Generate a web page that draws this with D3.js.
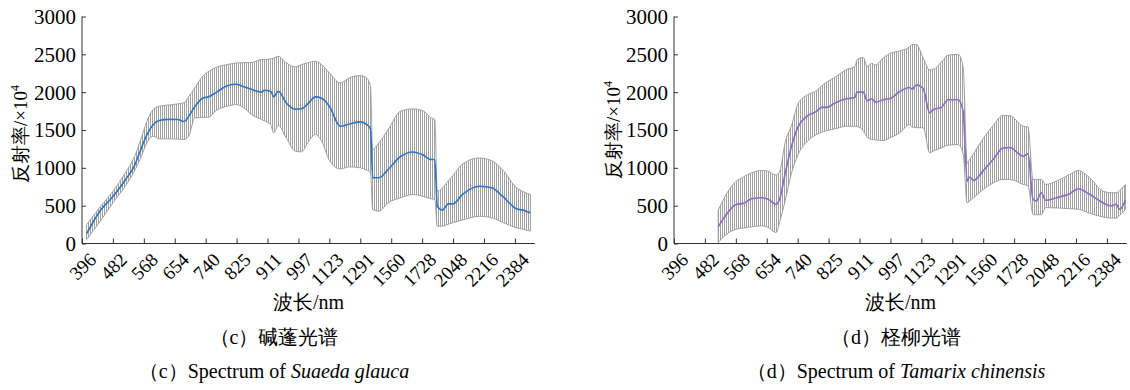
<!DOCTYPE html>
<html>
<head>
<meta charset="utf-8">
<script src="https://cdn.jsdelivr.net/npm/d3@7"></script>
</head>
<body style="margin:0">
<svg id="fig" width="1130" height="390"></svg>
<script>
// wavelength labels shown under every 10th band position
const wavelengthLabels = ["396", "482", "568", "654", "740", "825", "911", "997", "1123", "1291", "1560", "1728", "2048", "2216", "2384"];
const yTicks = [0, 500, 1000, 1500, 2000, 2500, 3000];

// (c) Suaeda glauca: band position, mean and mean +/- sd
const suaedaPos = [1.5, 6, 10, 14, 17, 19, 21, 23, 25, 28, 31, 33, 34.5, 36.5, 39, 41, 43.5, 47, 50, 52, 55, 58, 59, 61, 62, 63.5, 66, 69, 71, 73, 75.5, 77.5, 80, 83.5, 86.5, 90, 92, 93.3, 94, 96, 99, 103, 107, 110, 113, 114.1, 114.9, 116.5, 118.5, 120, 123, 128.5, 132.5, 136, 140.5, 143, 145];
const suaedaMean = [130, 440, 620, 840, 1030, 1240, 1440, 1570, 1625, 1640, 1638, 1612, 1680, 1810, 1920, 1940, 2000, 2085, 2104, 2075, 2035, 2000, 2025, 2012, 1940, 2012, 1860, 1775, 1780, 1845, 1938, 1920, 1815, 1550, 1580, 1608, 1575, 1515, 868, 868, 978, 1150, 1210, 1176, 1110, 1110, 493, 440, 524, 524, 647, 757, 736, 625, 458, 436, 405];
const suaedaUpper = [251, 490, 690, 934, 1150, 1374, 1616, 1770, 1814, 1830, 1845, 1860, 1940, 2057, 2210, 2276, 2330, 2365, 2387, 2390, 2392, 2431, 2431, 2440, 2450, 2474, 2390, 2334, 2365, 2387, 2409, 2365, 2255, 2123, 2189, 2219, 2189, 2078, 1242, 1330, 1506, 1748, 1779, 1760, 1660, 1638, 691, 730, 830, 900, 1050, 1130, 1095, 975, 740, 680, 647];
const suaedaLower = [53, 300, 537, 757, 960, 1132, 1330, 1418, 1383, 1383, 1380, 1374, 1418, 1660, 1665, 1670, 1760, 1814, 1836, 1800, 1700, 1640, 1620, 1572, 1462, 1560, 1400, 1219, 1211, 1330, 1440, 1352, 1100, 985, 1013, 1000, 970, 934, 449, 427, 537, 603, 647, 625, 590, 581, 229, 229, 255, 275, 310, 360, 340, 280, 207, 185, 163];

// (d) Tamarix chinensis
const tamarixPos = [14.3, 17, 20.2, 22.4, 25.1, 28.3, 30.5, 33, 34.3, 35.9, 38, 40.2, 42.9, 46.1, 47.7, 49.3, 52.5, 55.8, 58.5, 59.2, 61.2, 62.5, 63.9, 65.2, 67.6, 69.8, 73, 76.2, 77, 78.4, 80.6, 82.7, 83.8, 86.5, 88.6, 91.9, 93.5, 94.8, 95.6, 96.9, 99.9, 103.2, 106.4, 108.6, 112.9, 114.5, 116.1, 117.2, 118.8, 120.2, 123.7, 128, 130.7, 134.4, 138.7, 141.4, 143, 144.1, 146];
const tamarixMean = [220, 387, 518, 530, 592, 605, 584, 518, 605, 913, 1285, 1549, 1680, 1746, 1799, 1799, 1868, 1913, 1930, 2000, 2000, 1887, 1913, 1868, 1900, 1913, 2009, 2062, 2040, 2097, 2044, 1724, 1768, 1799, 1900, 1900, 1746, 825, 878, 834, 957, 1110, 1263, 1268, 1154, 1184, 584, 562, 671, 571, 605, 658, 724, 650, 539, 496, 518, 452, 571];
const tamarixUpper = [439, 658, 825, 880, 934, 966, 955, 904, 966, 1330, 1560, 1855, 1960, 2020, 2080, 2130, 2210, 2300, 2338, 2430, 2460, 2338, 2382, 2360, 2450, 2513, 2545, 2600, 2632, 2630, 2450, 2295, 2300, 2400, 2490, 2500, 2338, 1060, 1110, 1190, 1380, 1560, 1693, 1690, 1549, 1540, 847, 847, 847, 781, 825, 913, 966, 870, 693, 671, 671, 700, 780];
const tamarixLower = [13, 123, 189, 205, 220, 233, 211, 145, 300, 560, 930, 1180, 1340, 1440, 1470, 1490, 1520, 1549, 1549, 1545, 1490, 1400, 1373, 1370, 1360, 1395, 1461, 1571, 1540, 1530, 1530, 1197, 1220, 1263, 1300, 1307, 1184, 539, 560, 605, 710, 800, 847, 847, 781, 760, 387, 380, 380, 474, 470, 460, 452, 400, 351, 335, 335, 370, 450];

const panels = [
  { pos: suaedaPos, mean: suaedaMean, upper: suaedaUpper, lower: suaedaLower,
    x0: 82, x1: 535, color: "#2f74c0", yTitleX: 20, yTitleY: 134, capX: 274,
    cap1: "（c）碱蓬光谱", cap2a: "（c）Spectrum of ", cap2b: "Suaeda glauca" },
  { pos: tamarixPos, mean: tamarixMean, upper: tamarixUpper, lower: tamarixLower,
    x0: 674, x1: 1127, color: "#8a6cc2", yTitleX: 613, yTitleY: 130, capX: 896,
    cap1: "（d）柽柳光谱", cap2a: "（d）Spectrum of ", cap2b: "Tamarix chinensis" }
];

const svg = d3.select("#fig");
const yTop = 16.5, yBottom = 243.5;

svg.append("defs").append("pattern")
  .attr("id", "hatch")
  .attr("width", 2).attr("height", 4)
  .attr("patternUnits", "userSpaceOnUse")
  .append("rect")
  .attr("width", 1).attr("height", 4)
  .attr("fill", "#a0a0a0");

const y = d3.scaleLinear().domain([0, 3000]).range([yBottom, yTop]);

panels.forEach(p => {
  const x = d3.scaleLinear().domain([0, 146.5]).range([p.x0, p.x1]);
  const pts = p.pos.map((v, i) => ({ x: v, m: p.mean[i], hi: p.upper[i], lo: p.lower[i] }));

  const band = d3.area()
    .x(d => x(d.x)).y0(d => y(d.lo)).y1(d => y(d.hi))
    .curve(d3.curveMonotoneX);
  svg.append("path").datum(pts)
    .attr("d", band)
    .attr("fill", "url(#hatch)")
    .attr("stroke", "#8e8e8e")
    .attr("stroke-width", 0.8);

  const line = d3.line().x(d => x(d.x)).y(d => y(d.m)).curve(d3.curveMonotoneX);
  svg.append("path").datum(pts)
    .attr("d", line)
    .attr("fill", "none")
    .attr("stroke", p.color)
    .attr("stroke-width", 1.6);

  // axes, ticks pointing inward
  const xAxis = svg.append("g").attr("transform", `translate(0,${yBottom})`)
    .call(d3.axisBottom(x).tickValues(d3.range(0, 150, 10)).tickSize(-5).tickFormat(""));
  xAxis.select(".domain").attr("d", `M${p.x0},0H${p.x1}`).attr("stroke", "#333");
  xAxis.selectAll(".tick line").attr("stroke", "#333");

  const yAxis = svg.append("g").attr("transform", `translate(${p.x0},0)`)
    .call(d3.axisLeft(y).tickValues(yTicks).tickSize(-4).tickFormat(""));
  yAxis.select(".domain").attr("d", `M0,${yTop}V${yBottom}`).attr("stroke", "#333");
  yAxis.selectAll(".tick line").attr("stroke", "#333");

  yTicks.forEach(v => {
    svg.append("text").attr("font-family", "Liberation Serif").attr("font-size", 21)
      .attr("x", p.x0 - 6).attr("y", y(v)).attr("dy", "0.35em")
      .attr("text-anchor", "end").text(v);
  });

  wavelengthLabels.forEach((w, i) => {
    svg.append("text").attr("font-family", "Liberation Serif").attr("font-size", 19)
      .attr("transform", `translate(${x(i * 10) + 6},${yBottom + 8}) rotate(-45)`)
      .attr("dy", "0.7em").attr("text-anchor", "end").text(w);
  });

  const yt = svg.append("text").attr("font-family", "Liberation Serif").attr("font-size", 19)
    .attr("transform", `translate(${p.yTitleX},${p.yTitleY}) rotate(-90)`)
    .attr("dy", "0.35em").attr("text-anchor", "middle")
    .text("反射率/×10");
  yt.append("tspan").attr("dy", "-0.6em").attr("font-size", 12).text("4");

  svg.append("text").attr("font-family", "Liberation Serif").attr("font-size", 20)
    .attr("x", (p.x0 + p.x1) / 2).attr("y", 302).attr("dy", "0.35em")
    .attr("text-anchor", "middle").text("波长/nm");

  svg.append("text").attr("font-family", "Liberation Serif").attr("font-size", 20)
    .attr("x", p.capX).attr("y", 337).attr("dy", "0.35em")
    .attr("text-anchor", "middle").text(p.cap1);

  const c2 = svg.append("text").attr("font-family", "Liberation Serif").attr("font-size", 20)
    .attr("x", p.capX).attr("y", 371).attr("dy", "0.35em")
    .attr("text-anchor", "middle").text(p.cap2a);
  c2.append("tspan").attr("font-style", "italic").text(p.cap2b);
});
</script>
</body>
</html>
